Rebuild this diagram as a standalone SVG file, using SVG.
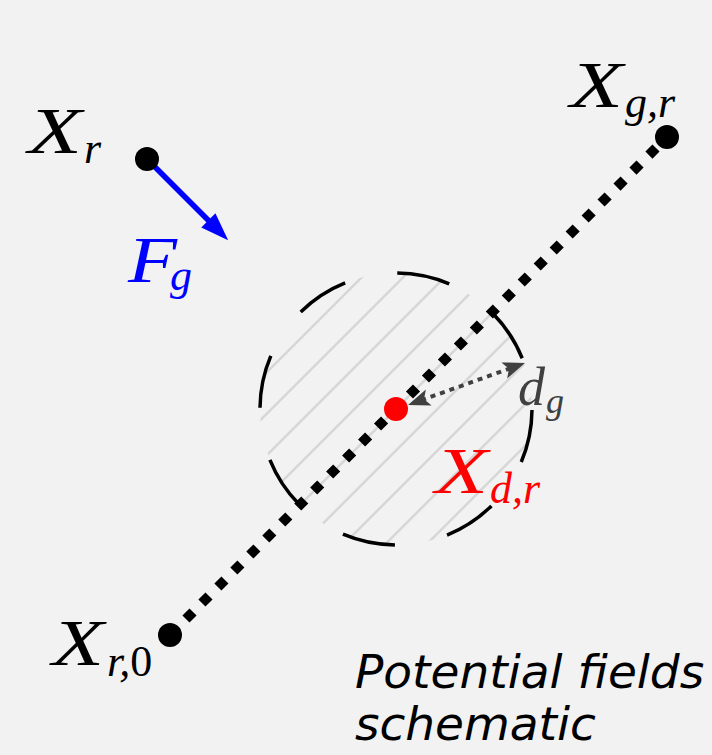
<svg xmlns="http://www.w3.org/2000/svg" width="712" height="755" viewBox="0 0 712 755">
<style>
.math{font-family:"Liberation Serif","DejaVu Serif",serif;font-style:italic}
.main{font-size:66px}
.sub{font-size:44px}
.up{font-style:normal}
.hatch{stroke:#d6d6d6;stroke-width:2.5}
.dot{fill:#000}
.caption{font-family:"DejaVu Sans",sans-serif;font-style:oblique;font-size:47px;fill:#000}
</style>
<defs>
<clipPath id="fieldClip"><circle cx="396" cy="409" r="136"/></clipPath>
<marker id="blueHead" markerUnits="userSpaceOnUse" orient="auto" refX="0" refY="0" markerWidth="40" markerHeight="40" viewBox="-20 -20 40 40" overflow="visible">
<path d="M20,0 L-8,-10 L-8,10 Z" fill="#0000ff"/>
</marker>
<marker id="grayHead" markerUnits="userSpaceOnUse" orient="auto-start-reverse" refX="0" refY="0" markerWidth="40" markerHeight="40" viewBox="-20 -20 40 40" overflow="visible">
<path d="M14,0 L-8,-8.5 L-3,0 L-8,8.5 Z" fill="#404040"/>
</marker>
</defs>
<rect width="712" height="755" fill="#f2f2f2"/>

<g id="field">
<g clip-path="url(#fieldClip)">
<line class="hatch" x1="200" y1="439" x2="600" y2="39"/>
<line class="hatch" x1="200" y1="480.5" x2="600" y2="80.5"/>
<line class="hatch" x1="200" y1="522" x2="600" y2="122"/>
<line class="hatch" x1="200" y1="563.5" x2="600" y2="163.5"/>
<line class="hatch" x1="200" y1="605" x2="600" y2="205"/>
<line class="hatch" x1="200" y1="646.5" x2="600" y2="246.5"/>
<line class="hatch" x1="200" y1="688" x2="600" y2="288"/>
<line class="hatch" x1="200" y1="729.5" x2="600" y2="329.5"/>
<line class="hatch" x1="200" y1="771" x2="600" y2="371"/>
</g>
<circle cx="396" cy="409" r="136" fill="none" stroke="#000" stroke-width="3.5" stroke-dasharray="53.41 53.41" stroke-dashoffset="-1"/>
</g>

<g id="connectors">
<line x1="170" y1="635" x2="667" y2="137" stroke="#000" stroke-width="10" stroke-dasharray="10 12.6"/>
<line x1="147" y1="159" x2="214" y2="226" stroke="#0000ff" stroke-width="5.5" marker-end="url(#blueHead)"/>
<line x1="421.2" y1="400.3" x2="511.8" y2="367.7" stroke="#404040" stroke-width="4" stroke-dasharray="5 5" marker-start="url(#grayHead)" marker-end="url(#grayHead)"/>
</g>

<g id="node-xr">
<circle class="dot" cx="147" cy="159" r="12"/>
<text class="math main" x="28" y="153" textLength="54" lengthAdjust="spacingAndGlyphs">X</text>
<text class="math sub" x="84" y="163">r</text>
</g>

<g id="node-fg">
<text class="math main" x="128" y="282" fill="#0000ff" textLength="49" lengthAdjust="spacingAndGlyphs">F</text>
<text class="math sub" x="170" y="290" fill="#0000ff">g</text>
</g>

<g id="node-xgr">
<circle class="dot" cx="667" cy="137" r="12"/>
<text class="math main" x="570" y="107" textLength="53" lengthAdjust="spacingAndGlyphs">X</text>
<text class="math sub" x="625" y="117">g,r</text>
</g>

<g id="node-xr0">
<circle class="dot" cx="170" cy="635" r="12"/>
<text class="math main" x="52" y="665" textLength="52" lengthAdjust="spacingAndGlyphs">X</text>
<text class="math sub" x="107" y="676">r,<tspan class="up">0</tspan></text>
</g>

<g id="node-xdr">
<circle cx="396" cy="409" r="12" fill="#ff0000"/>
<text class="math main" x="435" y="493" fill="#ff0000" textLength="53" lengthAdjust="spacingAndGlyphs">X</text>
<text class="math sub" x="490" y="503" fill="#ff0000">d,r</text>
</g>

<g id="node-dg">
<text class="math" x="518" y="405" font-size="54" fill="#404040">d</text>
<text class="math" x="546" y="413" font-size="36" fill="#404040">g</text>
</g>

<g id="caption">
<text class="caption" x="355" y="688">Potential fields</text>
<text class="caption" x="355" y="740">schematic</text>
</g>
</svg>
